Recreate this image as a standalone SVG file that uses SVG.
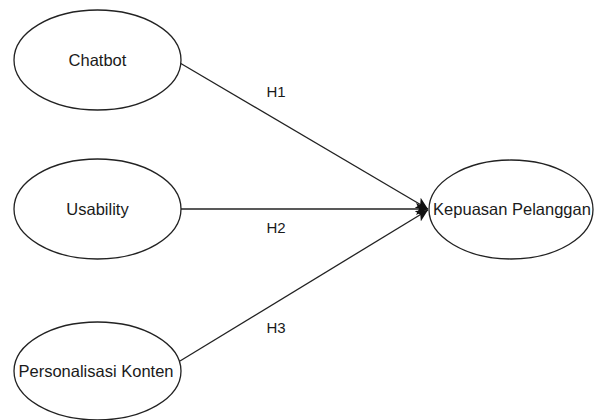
<svg xmlns="http://www.w3.org/2000/svg" width="600" height="420" viewBox="0 0 600 420">
<style>
.node ellipse{fill:#fff;stroke:#222;stroke-width:1.3}
.node text{font-family:"Liberation Sans",Arial,sans-serif;font-size:16.5px;fill:#1a1a1a;text-anchor:middle}
.lbl{font-family:"Liberation Sans",Arial,sans-serif;font-size:15px;fill:#1a1a1a;text-anchor:middle}
.edge{stroke:#222;stroke-width:1.3;fill:none;marker-end:url(#arr)}
</style>
<defs>
<marker id="arr" markerUnits="userSpaceOnUse" markerWidth="12" markerHeight="12" refX="10" refY="5" orient="auto" viewBox="0 0 10 10">
<path d="M0,0 L10,5 L0,10 L2.5,5 z" fill="#111"/>
</marker>
</defs>
<rect width="600" height="420" fill="#fff"/>
<g id="connectors">
<line class="edge" x1="180" y1="63" x2="428" y2="209"/>
<line class="edge" x1="181" y1="209" x2="428" y2="209"/>
<line class="edge" x1="180" y1="361" x2="428" y2="210"/>
<text class="lbl" x="276" y="97">H1</text>
<text class="lbl" x="276" y="233">H2</text>
<text class="lbl" x="276" y="333">H3</text>
</g>
<g id="chatbot" class="node">
<ellipse cx="97.5" cy="60" rx="83.5" ry="50"/>
<text x="97.5" y="66">Chatbot</text>
</g>
<g id="usability" class="node">
<ellipse cx="97.5" cy="209" rx="83.5" ry="50"/>
<text x="97.5" y="215">Usability</text>
</g>
<g id="personalisasi" class="node">
<ellipse cx="97.5" cy="371" rx="83.5" ry="49"/>
<text x="96" y="377">Personalisasi Konten</text>
</g>
<g id="kepuasan" class="node">
<ellipse cx="511" cy="209.5" rx="82" ry="49.5"/>
<text x="512" y="215">Kepuasan Pelanggan</text>
</g>
</svg>
